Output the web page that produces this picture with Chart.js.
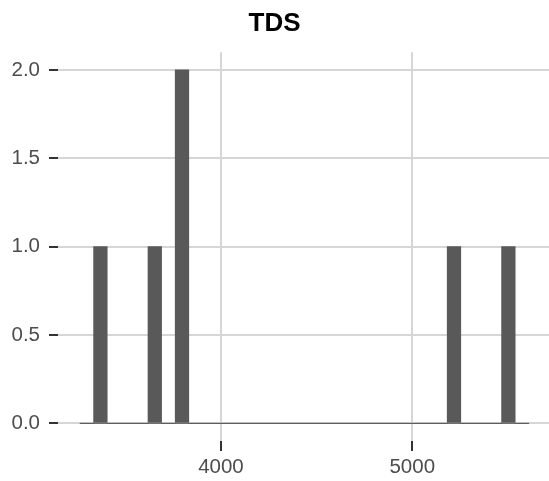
<!DOCTYPE html>
<html>
<head>
<meta charset="utf-8">
<title>TDS</title>
<script src="https://cdn.jsdelivr.net/npm/chart.js@4/dist/chart.umd.min.js"></script>
<style>
  html, body { margin: 0; padding: 0; background: #ffffff; }
  #chart { display: block; }
</style>
</head>
<body>
<canvas id="chart" width="549" height="481"></canvas>
<script>
// histogram bins (centre of each bin) and counts
const binCenters = [
  3298.6, 3369.7, 3440.8, 3511.9, 3583.0, 3654.1, 3725.2, 3796.3, 3867.4, 3938.5, 4009.6,
  4080.7, 4151.8, 4222.9, 4294.0, 4365.1, 4436.2, 4507.3, 4578.4, 4649.5, 4720.6, 4791.7,
  4862.8, 4933.9, 5005.0, 5076.1, 5147.2, 5218.3, 5289.4, 5360.5, 5431.6, 5502.7, 5573.8
];
const counts = [
  0, 1, 0, 0, 0, 1, 0, 2, 0, 0, 0,
  0, 0, 0, 0, 0, 0, 0, 0, 0, 0, 0,
  0, 0, 0, 0, 0, 1, 0, 0, 0, 1, 0
];
const binRange = [3263, 5610];   // outer edges of the first and last bin
const xTicks = [4000, 5000];
const yTicks = [0, 0.5, 1.0, 1.5, 2.0];
const titleText = "TDS";

const barColor = "#595959";
const gridColor = "#d6d6d6";
const tickMarkColor = "#333333";
const labelColor = "#4d4d4d";
const fontFamily = "'Liberation Sans', Arial, Helvetica, sans-serif";

const ctx = document.getElementById("chart").getContext("2d");

new Chart(ctx, {
  type: "bar",
  data: {
    datasets: [
      {
        type: "bar",
        data: binCenters.map((c, i) => ({ x: c, y: counts[i] })),
        backgroundColor: barColor,
        borderWidth: 0,
        barPercentage: 1.0,
        categoryPercentage: 1.0,
        order: 1,
      },
      {
        // zero-count bins show as a flat line along the bottom
        type: "line",
        data: binRange.map((x) => ({ x: x, y: 0 })),
        borderColor: barColor,
        borderWidth: 1,
        pointRadius: 0,
        fill: false,
        order: 2,
      },
    ],
  },
  options: {
    responsive: false,
    animation: false,
    layout: { padding: 0 },
    plugins: {
      legend: { display: false },
      tooltip: { enabled: false },
      title: {
        display: true,
        text: titleText,
        color: "#000000",
        font: { family: fontFamily, size: 26, weight: "bold", lineHeight: 1.2 },
        padding: { top: 8, bottom: 13 },
      },
    },
    scales: {
      x: {
        type: "linear",
        min: 3148,
        max: 5715,
        offset: false,
        afterBuildTicks: (axis) => {
          axis.ticks = xTicks.map((v) => ({ value: v }));
        },
        afterFit: (axis) => {
          axis.height = 40;
        },
        ticks: {
          color: labelColor,
          font: { family: fontFamily, size: 20.5 },
          padding: 4,
          maxRotation: 0,
          callback: (v) => String(v),
        },
        grid: {
          offset: false,
          color: gridColor,
          lineWidth: 2,
          drawTicks: true,
          tickLength: 10,
          tickColor: tickMarkColor,
          tickWidth: 2,
        },
        border: { display: false },
      },
      y: {
        type: "linear",
        min: -0.1,
        max: 2.1,
        afterBuildTicks: (axis) => {
          axis.ticks = yTicks.map((v) => ({ value: v }));
        },
        afterFit: (axis) => {
          axis.width = 58;
        },
        ticks: {
          color: labelColor,
          font: { family: fontFamily, size: 20.5 },
          padding: 9,
          callback: (v) => Number(v).toFixed(1),
        },
        grid: {
          color: gridColor,
          lineWidth: 2,
          drawTicks: true,
          tickLength: 9,
          tickColor: tickMarkColor,
          tickWidth: 2,
        },
        border: { display: false },
      },
    },
  },
});
</script>
</body>
</html>
